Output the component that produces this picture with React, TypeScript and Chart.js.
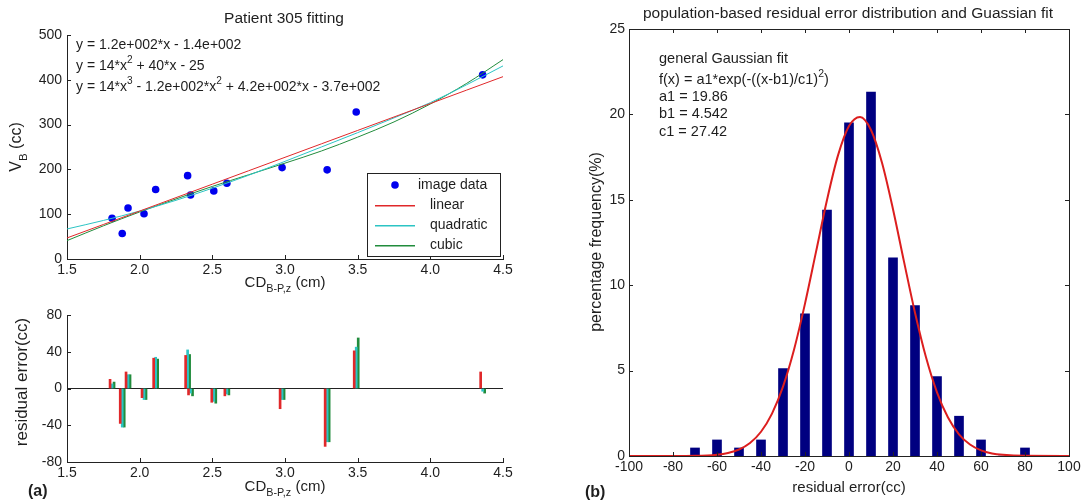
import React, { useEffect, useRef } from 'react';
import { Chart, registerables } from 'chart.js';

Chart.register(...registerables);

// ---------- data ----------
const cdValues = [1.81, 1.88, 1.92, 2.03, 2.11, 2.33, 2.35, 2.51, 2.6, 2.98, 3.29, 3.49, 4.36];
const vbValues = [91, 57, 114, 101, 155, 186, 143, 152, 169, 204, 199, 328, 411];

const fitX = [1.5, 1.75, 2.0, 2.25, 2.5, 2.75, 3.0, 3.25, 3.5, 3.75, 4.0, 4.25, 4.5];
const linearFit = [47, 77, 107, 137, 167, 197, 227, 257, 287, 317, 347, 377, 407];
const quadraticFit = [67, 86, 107, 131, 158, 187, 218, 250, 282, 315, 349, 389, 431];
const cubicFit = [41, 74, 105, 134, 162, 188, 214, 241, 272, 306, 346, 392, 445];

const residLinear = [10, -38, 18, -10, 33, 36, -7, -15, -8, -22, -63, 41, 18];
const residQuadratic = [5, -42, 15, -12, 34, 42, -5, -14, -6, -12, -58, 45, -3];
const residCubic = [7, -42, 15, -12, 32, 37, -8, -16, -7, -12, -58, 55, -5];

const binCenters = [-70, -60, -50, -40, -30, -20, -10, 0, 10, 20, 30, 40, 50, 60, 70, 80];
const binFreq = [0.47, 0.94, 0.47, 0.94, 5.12, 8.33, 14.4, 19.5, 21.3, 11.6, 8.8, 4.65, 2.33, 0.94, 0, 0.47];

const gaussX = [-100, -80, -70, -60, -55, -50, -45, -40, -35, -30, -25, -20, -15, -10, -5, 0, 5, 10, 15, 20, 25, 30, 35, 40, 45, 50, 55, 60, 65, 70, 80, 100];
const gaussY = [0, 0, 0.01, 0.08, 0.18, 0.38, 0.76, 1.42, 2.48, 4.06, 6.22, 8.92, 11.95, 14.99, 17.6, 19.32, 19.85, 19.09, 17.17, 14.45, 11.38, 8.39, 5.78, 3.73, 2.25, 1.27, 0.67, 0.33, 0.15, 0.07, 0.01, 0];

const xTicksCD = [1.5, 2.0, 2.5, 3.0, 3.5, 4.0, 4.5];

// ---------- styling ----------
const FONT = '"Liberation Sans", Arial, Helvetica, sans-serif';
const TXT = '#1e1e1e';
const AXIS = '#222';
const RED = '#e0282a';
const CYAN = '#2cc4c4';
const GREEN = '#218c3c';
const BLUE = '#0000ee';
const NAVY = '#000080';
const GRED = '#dc1e1e';

type Seg = [string, number?];

function richText(ctx: CanvasRenderingContext2D, segs: Seg[], x: number, y: number, size: number, align: 'left' | 'center', rot = false, weight = 'normal') {
  ctx.save();
  ctx.translate(x, y);
  if (rot) ctx.rotate(-Math.PI / 2);
  ctx.fillStyle = TXT;
  ctx.textBaseline = 'middle';
  ctx.textAlign = 'left';
  const small = size * 0.72;
  const fontOf = (k?: number) => `${weight} ${k ? small : size}px ${FONT}`;
  let total = 0;
  const widths = segs.map(([t, k]) => {
    ctx.font = fontOf(k);
    const w = ctx.measureText(t).width;
    total += w;
    return w;
  });
  let cx = align === 'center' ? -total / 2 : 0;
  segs.forEach(([t, k], i) => {
    ctx.font = fontOf(k);
    const dy = k === 1 ? size * 0.4 : k === 2 ? -size * 0.38 : 0;
    ctx.fillText(t, cx, dy);
    cx += widths[i];
  });
  ctx.restore();
}

function inwardTicks(chart: any, len: number, box: boolean) {
  const { ctx, chartArea: a, scales } = chart;
  const xs = scales.x;
  const ys = scales.y;
  ctx.save();
  ctx.strokeStyle = AXIS;
  ctx.lineWidth = 1;
  ctx.beginPath();
  xs.ticks.forEach((t: any) => {
    const px = Math.round(xs.getPixelForValue(t.value)) + 0.5;
    ctx.moveTo(px, a.bottom);
    ctx.lineTo(px, a.bottom - len);
    if (box) {
      ctx.moveTo(px, a.top);
      ctx.lineTo(px, a.top + len);
    }
  });
  ys.ticks.forEach((t: any) => {
    const py = Math.round(ys.getPixelForValue(t.value)) + 0.5;
    ctx.moveTo(a.left, py);
    ctx.lineTo(a.left + len, py);
    if (box) {
      ctx.moveTo(a.right, py);
      ctx.lineTo(a.right - len, py);
    }
  });
  ctx.stroke();
  if (box) {
    ctx.strokeRect(Math.round(a.left) + 0.5, Math.round(a.top) + 0.5, Math.round(a.right - a.left), Math.round(a.bottom - a.top));
  }
  ctx.restore();
}

const tickFont = { family: FONT, size: 14 };
const border = { display: true, color: AXIS, width: 1 };

function cdAxis(height: number) {
  return {
    type: 'linear',
    min: 1.5,
    max: 4.5,
    offset: false,
    afterBuildTicks: (s: any) => {
      s.ticks = xTicksCD.map((v) => ({ value: v }));
    },
    ticks: { callback: (v: any) => Number(v).toFixed(1), font: tickFont, color: TXT, padding: 3, maxRotation: 0, autoSkip: false },
    grid: { display: false, drawTicks: false, offset: false },
    border,
    afterFit: (s: any) => {
      s.height = height;
    },
  };
}

// ---------- panel (a) top ----------
function configA(): any {
  const W = 540, H = 300;
  return {
    type: 'scatter',
    data: {
      datasets: [
        { label: 'image data', data: cdValues.map((x, i) => ({ x, y: vbValues[i] })), showLine: false, pointRadius: 3.8, pointBackgroundColor: BLUE, pointBorderWidth: 0, order: 1 },
        { label: 'linear', data: fitX.map((x, i) => ({ x, y: linearFit[i] })), showLine: true, pointRadius: 0, borderColor: RED, borderWidth: 1, order: 0 },
        { label: 'quadratic', data: fitX.map((x, i) => ({ x, y: quadraticFit[i] })), showLine: true, pointRadius: 0, borderColor: CYAN, borderWidth: 1, tension: 0.4, cubicInterpolationMode: 'monotone', order: 0 },
        { label: 'cubic', data: fitX.map((x, i) => ({ x, y: cubicFit[i] })), showLine: true, pointRadius: 0, borderColor: GREEN, borderWidth: 1, tension: 0.4, cubicInterpolationMode: 'monotone', order: 0 },
      ],
    },
    options: {
      responsive: false,
      animation: false,
      events: [],
      layout: { padding: { left: 0, top: 35, right: W - 503, bottom: 0 } },
      plugins: { legend: { display: false }, tooltip: { enabled: false } },
      scales: {
        x: cdAxis(H - 259),
        y: {
          type: 'linear',
          min: 0,
          max: 500,
          ticks: { stepSize: 100, font: tickFont, color: TXT, padding: 5 },
          grid: { display: false, drawTicks: false },
          border,
          afterFit: (s: any) => {
            s.width = 67;
          },
        },
      },
    },
    plugins: [
      {
        id: 'decorA',
        afterDraw(chart: any) {
          const ctx = chart.ctx;
          inwardTicks(chart, 4, false);
          richText(ctx, [['Patient 305 fitting']], 284, 19, 15.5, 'center');
          richText(ctx, [['V'], ['B', 1], [' (cc)']], 17, 147, 16, 'center', true);
          richText(ctx, [['CD'], ['B-P,z', 1], [' (cm)']], 285, 283, 15, 'center');
          richText(ctx, [['y = 1.2e+002*x - 1.4e+002']], 76, 45, 14, 'left');
          richText(ctx, [['y = 14*x'], ['2', 2], [' + 40*x - 25']], 76, 66, 14, 'left');
          richText(ctx, [['y = 14*x'], ['3', 2], [' - 1.2e+002*x'], ['2', 2], [' + 4.2e+002*x - 3.7e+002']], 76, 87, 14, 'left');
          // legend box
          ctx.save();
          ctx.fillStyle = '#fff';
          ctx.fillRect(367.5, 173.5, 133, 83);
          ctx.strokeStyle = AXIS;
          ctx.lineWidth = 1;
          ctx.strokeRect(367.5, 173.5, 133, 83);
          ctx.fillStyle = BLUE;
          ctx.beginPath();
          ctx.arc(395, 185, 3.8, 0, Math.PI * 2);
          ctx.fill();
          const swatch = [RED, CYAN, GREEN];
          for (let j = 0; j < swatch.length; j++) {
            ctx.fillStyle = swatch[j];
            ctx.fillRect(375, 205 + j * 20, 40, 1.5);
          }
          ctx.restore();
          richText(ctx, [['image data']], 418, 185, 14, 'left');
          richText(ctx, [['linear']], 430, 205, 14, 'left');
          richText(ctx, [['quadratic']], 430, 225, 14, 'left');
          richText(ctx, [['cubic']], 430, 245, 14, 'left');
        },
      },
    ],
  };
}

// ---------- panel (a) bottom ----------
function configB(): any {
  const W = 540, H = 213;
  const mk = (label: string, vals: number[], color: string) => ({
    label,
    data: cdValues.map((x, i) => ({ x, y: vals[i] })),
    backgroundColor: color,
    borderWidth: 0,
    barThickness: 2,
  });
  return {
    type: 'bar',
    data: {
      datasets: [mk('linear', residLinear, RED), mk('quadratic', residQuadratic, CYAN), mk('cubic', residCubic, GREEN)],
    },
    options: {
      responsive: false,
      animation: false,
      events: [],
      layout: { padding: { left: 0, top: 25, right: W - 503, bottom: 0 } },
      plugins: { legend: { display: false }, tooltip: { enabled: false } },
      scales: {
        x: cdAxis(H - 172),
        y: {
          type: 'linear',
          min: -80,
          max: 80,
          ticks: { stepSize: 40, font: tickFont, color: TXT, padding: 5 },
          grid: {
            display: true,
            drawTicks: false,
            lineWidth: 1,
            color: (c: any) => (c.tick && c.tick.value === 0 ? AXIS : 'rgba(0,0,0,0)'),
          },
          border,
          afterFit: (s: any) => {
            s.width = 67;
          },
        },
      },
    },
    plugins: [
      {
        id: 'decorB',
        afterDraw(chart: any) {
          const ctx = chart.ctx;
          inwardTicks(chart, 4, false);
          richText(ctx, [['residual error(cc)']], 22, 92, 17, 'center', true);
          richText(ctx, [['CD'], ['B-P,z', 1], [' (cm)']], 285, 197, 15, 'center');
          richText(ctx, [['(a)']], 28, 202, 16, 'left', false, 'bold');
        },
      },
    ],
  };
}

// ---------- panel (b) ----------
function configC(): any {
  const W = 543, H = 503;
  return {
    type: 'bar',
    data: {
      datasets: [
        {
          type: 'line',
          label: 'Gaussian fit',
          data: gaussX.map((x, i) => ({ x, y: gaussY[i] })),
          borderColor: GRED,
          borderWidth: 2,
          pointRadius: 0,
          tension: 0.4,
          cubicInterpolationMode: 'monotone',
          order: 0,
        },
        {
          type: 'bar',
          label: 'frequency',
          data: binCenters.map((x, i) => ({ x, y: binFreq[i] })),
          backgroundColor: NAVY,
          borderWidth: 0,
          barThickness: 9,
          order: 1,
        },
      ],
    },
    options: {
      responsive: false,
      animation: false,
      events: [],
      layout: { padding: { left: 0, top: 29, right: W - 524, bottom: 0 } },
      plugins: { legend: { display: false }, tooltip: { enabled: false } },
      scales: {
        x: {
          type: 'linear',
          min: -100,
          max: 100,
          offset: false,
          ticks: { stepSize: 20, font: tickFont, color: TXT, padding: 3, maxRotation: 0, autoSkip: false },
          grid: { display: false, drawTicks: false, offset: false },
          border,
          afterFit: (s: any) => {
            s.height = H - 456;
          },
        },
        y: {
          type: 'linear',
          min: 0,
          max: 25,
          ticks: { stepSize: 5, font: tickFont, color: TXT, padding: 4 },
          grid: { display: false, drawTicks: false },
          border,
          afterFit: (s: any) => {
            s.width = 84;
          },
        },
      },
    },
    plugins: [
      {
        id: 'decorC',
        afterDraw(chart: any) {
          const ctx = chart.ctx;
          inwardTicks(chart, 4, true);
          richText(ctx, [['population-based residual error distribution and Guassian fit']], 303, 14, 15.5, 'center');
          richText(ctx, [['percentage frequency(%)']], 52, 242, 16, 'center', true);
          richText(ctx, [['residual error(cc)']], 304, 488, 15, 'center');
          richText(ctx, [['(b)']], 40, 493, 16, 'left', false, 'bold');
          richText(ctx, [['general Gaussian fit']], 114, 59, 14.5, 'left');
          richText(ctx, [['f(x) = a1*exp(-((x-b1)/c1)'], ['2', 2], [')']], 114, 80, 14.5, 'left');
          richText(ctx, [['a1 = 19.86']], 114, 97, 14.5, 'left');
          richText(ctx, [['b1 = 4.542']], 114, 114, 14.5, 'left');
          richText(ctx, [['c1 = 27.42']], 114, 132, 14.5, 'left');
        },
      },
    ],
  };
}

export default function App() {
  const refA = useRef<HTMLCanvasElement>(null);
  const refB = useRef<HTMLCanvasElement>(null);
  const refC = useRef<HTMLCanvasElement>(null);

  useEffect(() => {
    const charts = [
      new Chart(refA.current as HTMLCanvasElement, configA()),
      new Chart(refB.current as HTMLCanvasElement, configB()),
      new Chart(refC.current as HTMLCanvasElement, configC()),
    ];
    return () => charts.forEach((c) => c.destroy());
  }, []);

  return (
    <div style={{ position: 'fixed', left: 0, top: 0, width: 1088, height: 503, background: '#fff', overflow: 'hidden' }}>
      <canvas ref={refA} width={540} height={300} style={{ position: 'absolute', left: 0, top: 0, width: 540, height: 300 }} />
      <canvas ref={refB} width={540} height={213} style={{ position: 'absolute', left: 0, top: 290, width: 540, height: 213 }} />
      <canvas ref={refC} width={543} height={503} style={{ position: 'absolute', left: 545, top: 0, width: 543, height: 503 }} />
    </div>
  );
}
